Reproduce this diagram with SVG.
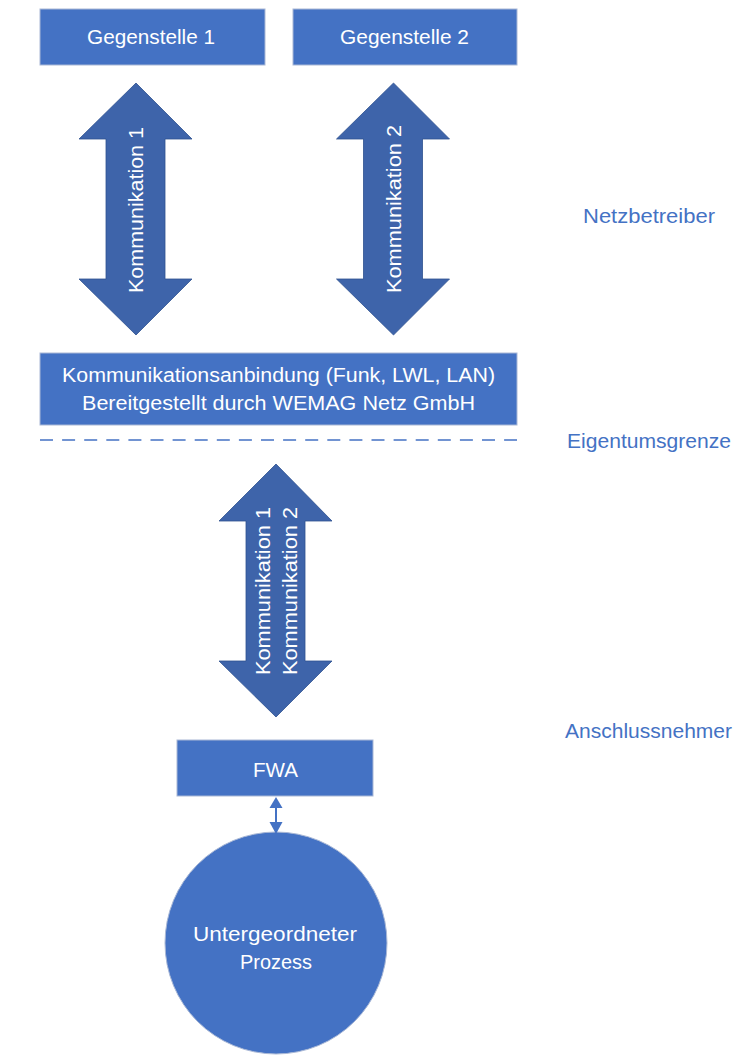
<svg xmlns="http://www.w3.org/2000/svg" width="735" height="1055" viewBox="0 0 735 1055">
  <style>
    .box { fill: #4472C4; stroke: #A9B8D6; stroke-width: 1; }
    .big { fill: #3E64AA; stroke: #2F528F; stroke-width: 0.8; }
    .t { font-family: "Liberation Sans", Arial, sans-serif; font-size: 20px; fill: #FFFFFF; }
    .lbl { font-family: "Liberation Sans", Arial, sans-serif; font-size: 20px; fill: #4472C4; }
  </style>
  <rect width="735" height="1055" fill="#FFFFFF"/>

  <g id="gegenstelle1">
    <rect class="box" x="40" y="9" width="225" height="56"/>
    <text class="t" x="151" y="44" text-anchor="middle" textLength="128" lengthAdjust="spacingAndGlyphs">Gegenstelle 1</text>
  </g>
  <g id="gegenstelle2">
    <rect class="box" x="293" y="9" width="224" height="56"/>
    <text class="t" x="404.5" y="44" text-anchor="middle" textLength="129" lengthAdjust="spacingAndGlyphs">Gegenstelle 2</text>
  </g>

  <g id="kommunikationsanbindung">
    <rect class="box" x="40" y="353" width="477" height="72"/>
    <text class="t" x="278.5" y="382" text-anchor="middle" textLength="433" lengthAdjust="spacingAndGlyphs">Kommunikationsanbindung (Funk, LWL, LAN)</text>
    <text class="t" x="278.5" y="410" text-anchor="middle" textLength="393" lengthAdjust="spacingAndGlyphs">Bereitgestellt durch WEMAG Netz GmbH</text>
  </g>

  <g id="fwa">
    <rect class="box" x="177" y="740" width="196" height="56"/>
    <text class="t" x="275.5" y="777" text-anchor="middle" textLength="45" lengthAdjust="spacingAndGlyphs">FWA</text>
  </g>

  <g id="prozess">
    <circle cx="276" cy="943" r="111" fill="#4472C4" stroke="#A9B8D6" stroke-width="1"/>
    <text class="t" x="275" y="941" text-anchor="middle" textLength="164" lengthAdjust="spacingAndGlyphs">Untergeordneter</text>
    <text class="t" x="276" y="969" text-anchor="middle" textLength="72" lengthAdjust="spacingAndGlyphs">Prozess</text>
  </g>

  <g id="labels">
    <text class="lbl" x="583" y="223" textLength="132" lengthAdjust="spacingAndGlyphs">Netzbetreiber</text>
    <text class="lbl" x="567" y="448" textLength="164" lengthAdjust="spacingAndGlyphs">Eigentumsgrenze</text>
    <text class="lbl" x="565" y="738" textLength="167" lengthAdjust="spacingAndGlyphs">Anschlussnehmer</text>
  </g>

  <g id="connectors">
    <line id="eigentumsgrenze-linie" x1="40" y1="440" x2="517" y2="440" stroke="#4472C4" stroke-width="1.6" stroke-dasharray="13 9.1"/>

    <g id="arrow-kommunikation1">
      <path class="big" d="M136,83 L192,139 L165,139 L165,279 L192,279 L136,335 L79,279 L106,279 L106,139 L79,139 Z"/>
      <text class="t" x="143" y="210" text-anchor="middle" transform="rotate(-90 143 210)" textLength="166" lengthAdjust="spacingAndGlyphs">Kommunikation 1</text>
    </g>
    <g id="arrow-kommunikation2">
      <path class="big" d="M393.5,83 L449.5,139 L422.5,139 L422.5,279 L449.5,279 L393.5,335 L336.5,279 L363.5,279 L363.5,139 L336.5,139 Z"/>
      <text class="t" x="401" y="209" text-anchor="middle" transform="rotate(-90 401 209)" textLength="168" lengthAdjust="spacingAndGlyphs">Kommunikation 2</text>
    </g>
    <g id="arrow-kommunikation12">
      <path class="big" d="M276,464 L332,521 L305,521 L305,661 L332,661 L276,717 L219,661 L246,661 L246,521 L219,521 Z"/>
      <text class="t" x="270" y="591" text-anchor="middle" transform="rotate(-90 270 591)" textLength="168" lengthAdjust="spacingAndGlyphs">Kommunikation 1</text>
      <text class="t" x="297" y="591" text-anchor="middle" transform="rotate(-90 297 591)" textLength="168" lengthAdjust="spacingAndGlyphs">Kommunikation 2</text>
    </g>

    <g id="fwa-prozess">
      <line x1="276" y1="806" x2="276" y2="824" stroke="#4472C4" stroke-width="2"/>
      <polygon points="276,797 282.5,808 269.5,808" fill="#4472C4"/>
      <polygon points="276,834 282.5,822 269.5,822" fill="#4472C4"/>
    </g>
  </g>
</svg>
